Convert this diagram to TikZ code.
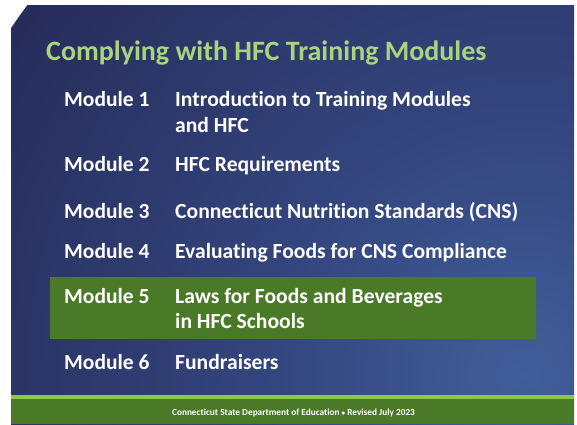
\documentclass[tikz,border=0pt]{standalone}
\usepackage{fontspec}
\setmainfont{Carlito}[Ligatures=CommonOff]
\definecolor{bgdark}{HTML}{22244C}
\definecolor{bgmid}{HTML}{272C5A}
\definecolor{bgmid2}{HTML}{34467F}
\definecolor{bglight}{HTML}{415E9A}
\definecolor{hgreen}{HTML}{4A7A28}
\definecolor{lgreen}{HTML}{8CC84B}
\definecolor{tgreen}{HTML}{A9D47F}
\pgfdeclareradialshading{bgshade}{\pgfpoint{0bp}{0bp}}{color(0bp)=(bglight); color(10bp)=(bgmid2); color(25bp)=(bgmid); color(50bp)=(bgdark)}
\tikzset{
  modlabel/.style={anchor=base west, inner sep=0pt, text=white, font=\bfseries\fontsize{21.5}{24}\selectfont},
  modtext/.style={anchor=base west, inner sep=0pt, text=white, font=\bfseries\fontsize{21.6}{24}\selectfont},
}
\begin{document}
\begin{tikzpicture}[x=1pt,y=-1pt]
\useasboundingbox (0,0) rectangle (577,424);
\fill[white] (0,0) rectangle (577,424);
\begin{scope}
\clip (11,5) rectangle (574,424);
\shade[shading=bgshade] (525,375) circle (620);
\end{scope}
% highlight
\fill[hgreen] (50,277) rectangle (536,339);
% footer
\fill[lgreen] (11,395) rectangle (574,399);
\fill[hgreen] (11,399) rectangle (574,424);
\node[anchor=center, inner sep=0pt, text=white, font=\bfseries\fontsize{9.3}{10}\selectfont] (foot) at (293.5,413) {Connecticut State Department of Education {\fontsize{7}{8}\selectfont•} Revised July 2023};
% title
\node[anchor=base west, inner sep=0pt, text=tgreen, font=\bfseries\fontsize{28}{32}\selectfont] (title) at (46,60) {Complying with HFC Training Modules};
% modules
\node[modlabel] (m1) at (64,106) {Module 1};
\node[modtext] (t1) at (175,106) {Introduction to Training Modules};
\node[modtext] (t1b) at (175,132.7) {and HFC};
\node[modlabel] (m2) at (64,171) {Module 2};
\node[modtext] (t2) at (175,171) {HFC Requirements};
\node[modlabel] (m3) at (64,218.3) {Module 3};
\node[modtext] (t3) at (175,218.3) {Connecticut Nutrition Standards (CNS)};
\node[modlabel] (m4) at (64,258.3) {Module 4};
\node[modtext] (t4) at (175,258.3) {Evaluating Foods for CNS Compliance};
\node[modlabel] (m5) at (64,303) {Module 5};
\node[modtext] (t5) at (175,303) {Laws for Foods and Beverages};
\node[modtext] (t5b) at (175,328) {in HFC Schools};
\node[modlabel] (m6) at (64,369) {Module 6};
\node[modtext] (t6) at (175,369) {Fundraisers};
\end{tikzpicture}
\end{document}
